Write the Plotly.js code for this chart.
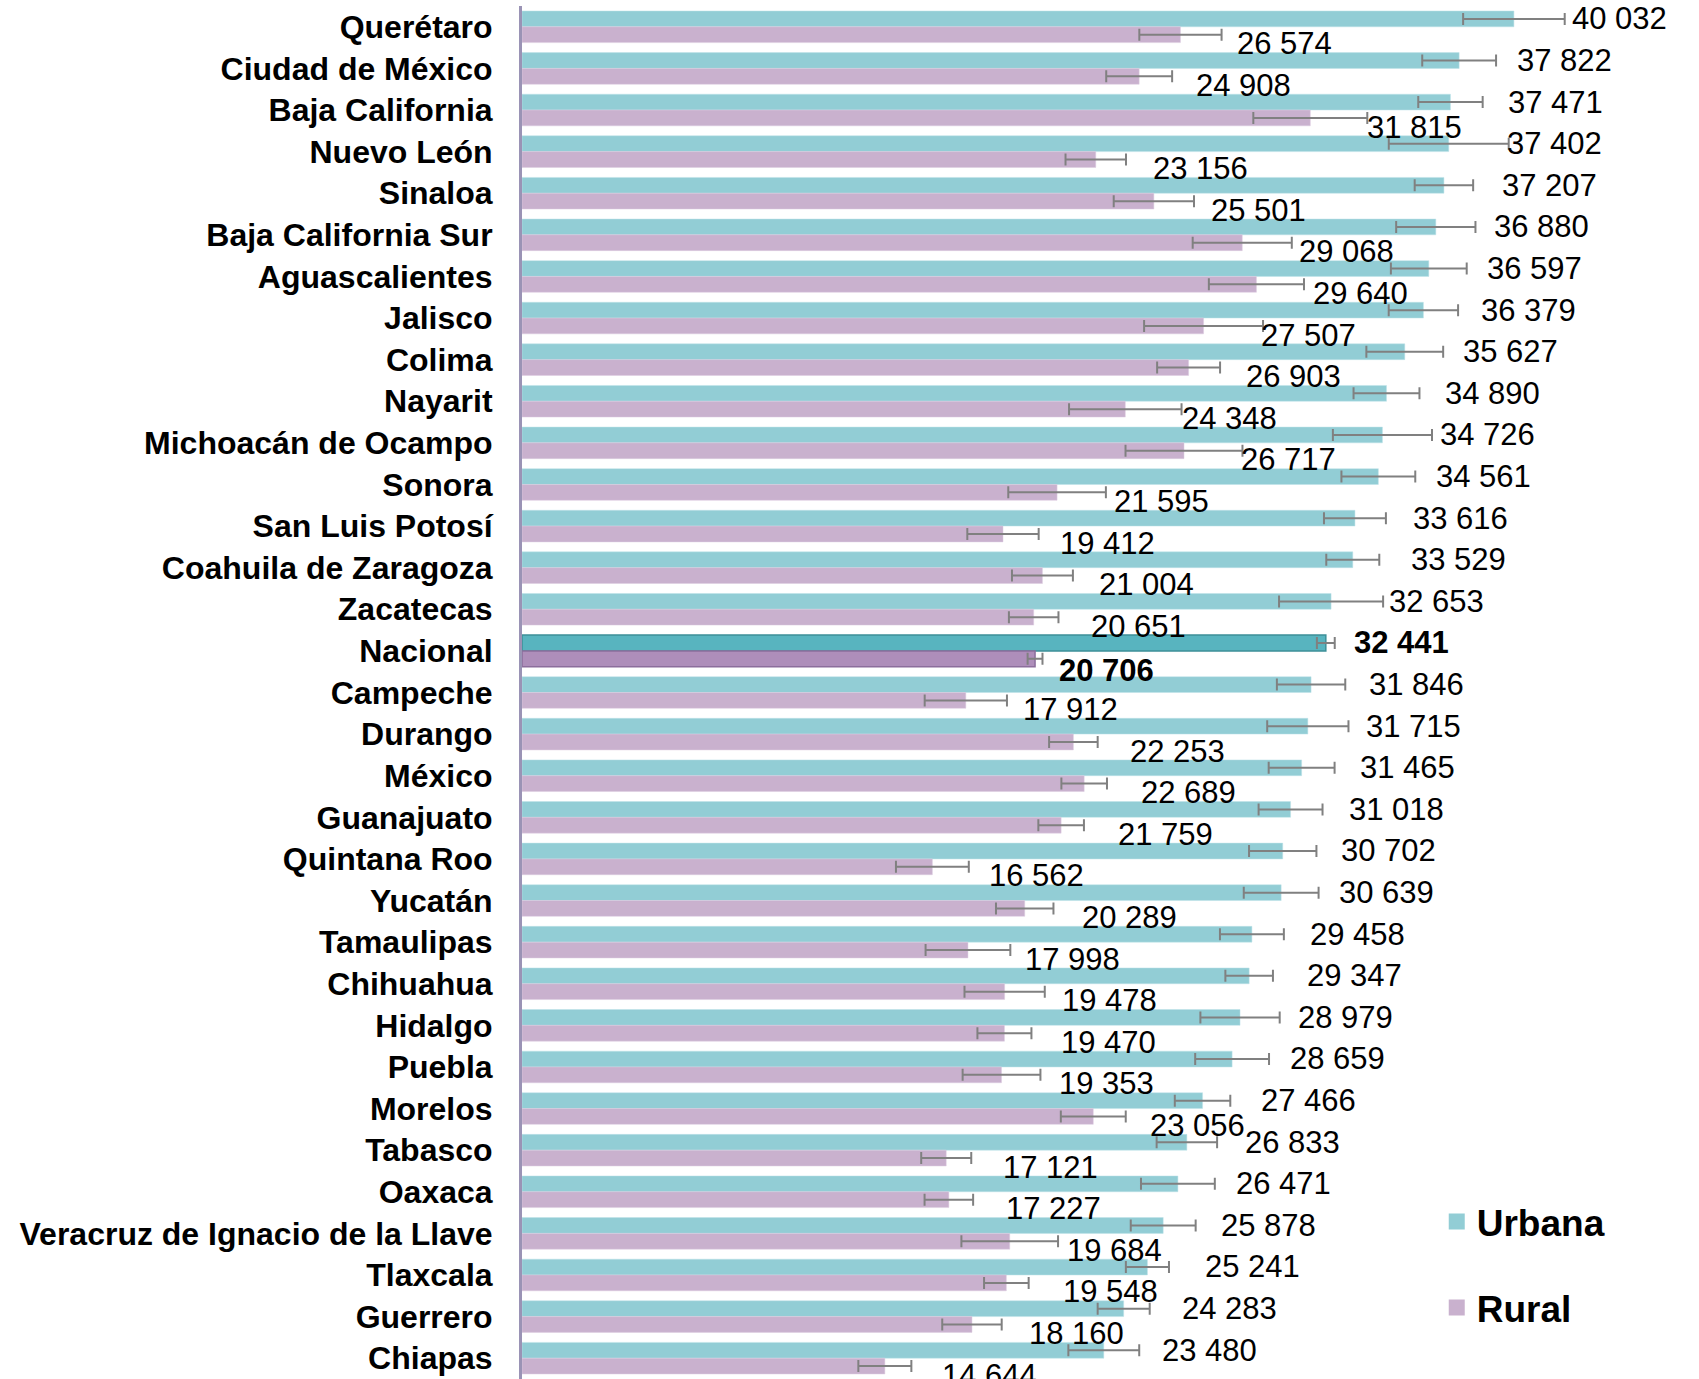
<!DOCTYPE html>
<html>
<head>
<meta charset="utf-8">
<script src="https://cdn.plot.ly/plotly-3.0.1.min.js"></script>
<style>html,body{margin:0;padding:0;background:#fff;}#chart{width:1699px;height:1379px;}</style>
</head>
<body>
<div id="chart"></div>
<script>
const categories = ["Querétaro","Ciudad de México","Baja California","Nuevo León","Sinaloa","Baja California Sur","Aguascalientes","Jalisco","Colima","Nayarit","Michoacán de Ocampo","Sonora","San Luis Potosí","Coahuila de Zaragoza","Zacatecas","Nacional","Campeche","Durango","México","Guanajuato","Quintana Roo","Yucatán","Tamaulipas","Chihuahua","Hidalgo","Puebla","Morelos","Tabasco","Oaxaca","Veracruz de Ignacio de la Llave","Tlaxcala","Guerrero","Chiapas"];
const urbana = [40032,37822,37471,37402,37207,36880,36597,36379,35627,34890,34726,34561,33616,33529,32653,32441,31846,31715,31465,31018,30702,30639,29458,29347,28979,28659,27466,26833,26471,25878,25241,24283,23480];
const rural = [26574,24908,31815,23156,25501,29068,29640,27507,26903,24348,26717,21595,19412,21004,20651,20706,17912,22253,22689,21759,16562,20289,17998,19478,19470,19353,23056,17121,17227,19684,19548,18160,14644];
const urbanaErr = [2050,1490,1300,2420,1180,1600,1530,1400,1550,1330,2000,1490,1250,1070,2100,360,1380,1640,1330,1290,1360,1510,1290,960,1600,1490,1120,1220,1490,1310,870,1050,1430];
const ruralErr = [1660,1330,2300,1220,1620,2000,1920,2400,1270,2270,2360,1970,1440,1230,1000,300,1660,980,920,920,1470,1160,1710,1620,1090,1570,1310,1010,980,1950,900,1200,1070];
const seriesNames = ["Urbana","Rural"];
const highlight = "Nacional";

const FONT = "'Liberation Sans', Arial, sans-serif";
const colU = "#92CDD5", colUH = "#58B4BF", lineUH = "#3C8F98";
const colR = "#C9B1CE", colRH = "#AE8EBA", lineRH = "#8C6E9C";

function fmt(v){ return String(v).replace(/\B(?=(\d{3})+(?!\d))/g, " "); }
const isH = categories.map(c => c === highlight);

const errStyle = {type:"data", visible:true, color:"#808080", thickness:2, width:6};

const traces = [
  {type:"bar", orientation:"h", name:seriesNames[0], y:categories, x:urbana,
   marker:{color:isH.map(h=>h?colUH:colU), line:{color:isH.map(h=>h?lineUH:"#BFE3E8"), width:isH.map(h=>h?1.5:0.5)}},
   error_x:Object.assign({array:urbanaErr}, errStyle), showlegend:false, hoverinfo:"skip"},
  {type:"bar", orientation:"h", name:seriesNames[1], y:categories, x:rural,
   marker:{color:isH.map(h=>h?colRH:colR), line:{color:isH.map(h=>h?lineRH:"#DCCCE0"), width:isH.map(h=>h?1.5:0.5)}},
   error_x:Object.assign({array:ruralErr}, errStyle), showlegend:false, hoverinfo:"skip"},
  {type:"scatter", mode:"markers", name:seriesNames[0], x:[null], y:[null], legendgroup:"u",
   marker:{symbol:"square", size:16, color:colU}},
  {type:"scatter", mode:"markers", name:seriesNames[1], x:[null], y:[null], legendgroup:"r",
   marker:{symbol:"square", size:16, color:colR}}
];

const annotations = [];
categories.forEach((c,i)=>{
  const h = isH[i];
  annotations.push({x:urbana[i], y:c, xref:"x", yref:"y", text:h?"<b>"+fmt(urbana[i])+"</b>":fmt(urbana[i]),
    showarrow:false, xanchor:"left", yanchor:"middle", xshift:h?26:56, yshift:8,
    font:{family:FONT, size:31, color:"#000"}});
  annotations.push({x:rural[i], y:c, xref:"x", yref:"y", text:h?"<b>"+fmt(rural[i])+"</b>":fmt(rural[i]),
    showarrow:false, xanchor:"left", yanchor:"middle", xshift:h?22:55, yshift:h?-20:-17,
    font:{family:FONT, size:31, color:"#000"}});
});

const layout = {
  width:1699, height:1379,
  margin:{l:522, r:5, t:6, b:0, autoexpand:false},
  paper_bgcolor:"#fff", plot_bgcolor:"#fff",
  barmode:"group", bargap:0.24, bargroupgap:0,
  hovermode:false,
  font:{family:FONT, color:"#000"},
  xaxis:{range:[0,47300], visible:false, fixedrange:true},
  yaxis:{type:"category", categoryorder:"array", categoryarray:categories,
    range:[categories.length-0.5, -0.5], autorange:false,
    showline:true, linecolor:"#9A93B5", linewidth:3, showgrid:false, zeroline:false,
    ticks:"outside", ticklen:20, tickcolor:"rgba(0,0,0,0)",
    tickfont:{family:FONT, size:32, color:"#000", weight:"bold"}, automargin:false},
  legend:{x:0.7805, y:0.137, xanchor:"left", yanchor:"top", traceorder:"grouped", tracegroupgap:35,
    font:{family:FONT, size:37, color:"#000", weight:"bold"}, bgcolor:"rgba(0,0,0,0)"},
  showlegend:true,
  annotations:annotations
};

Plotly.newPlot("chart", traces, layout, {displayModeBar:false, staticPlot:true});
</script>
</body>
</html>
